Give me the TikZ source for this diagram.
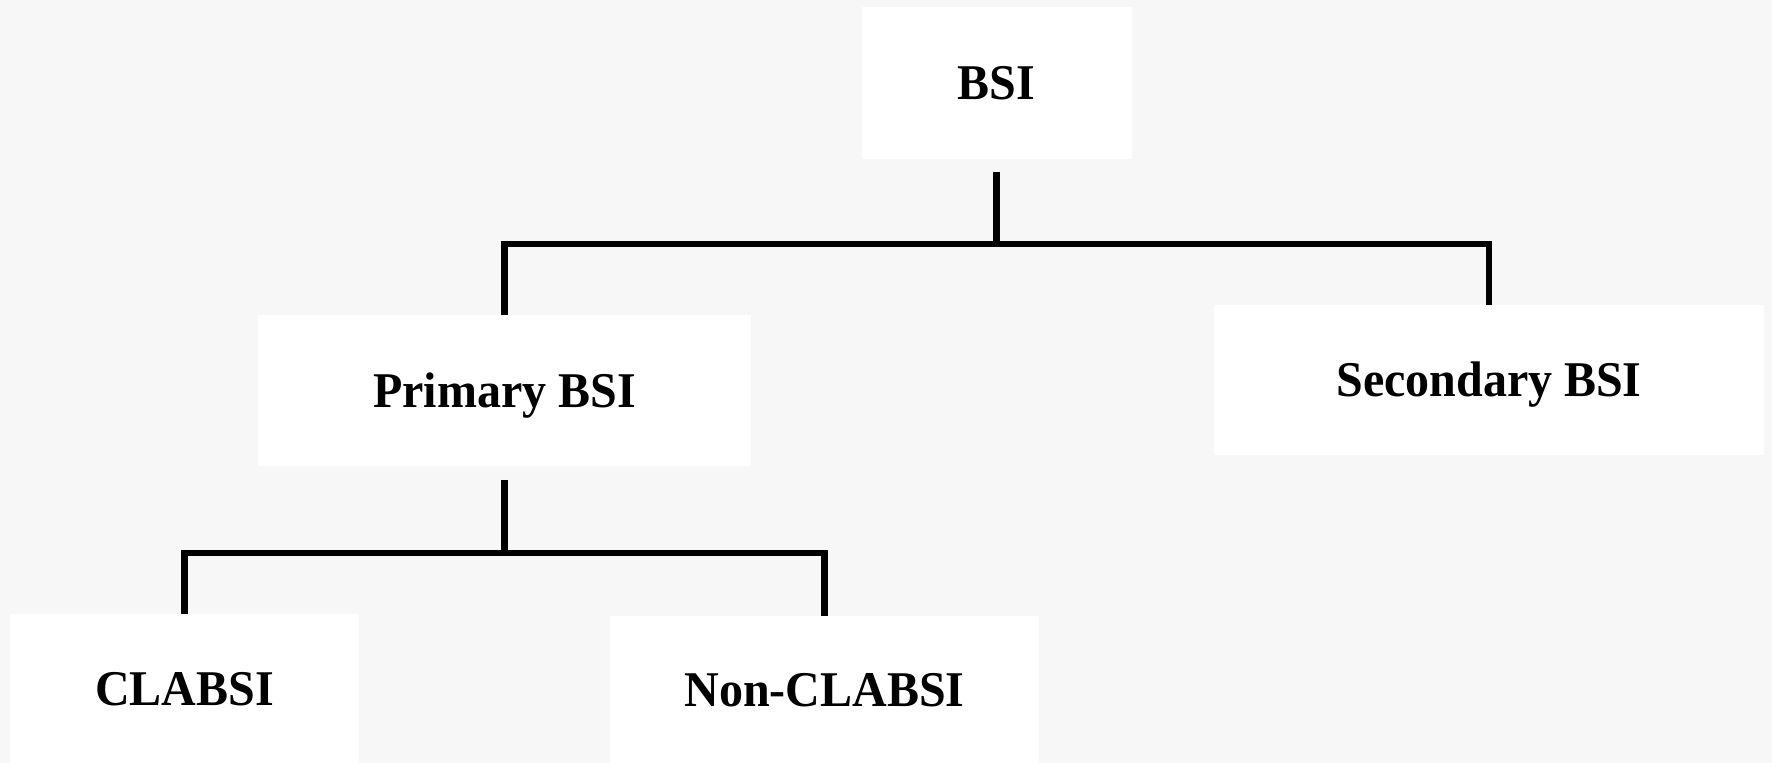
\documentclass[tikz,border=0pt]{standalone}
\usepackage{fontspec}
\setmainfont{Liberation Serif}[FakeStretch=0.96]
\usepackage{xcolor}
\usepackage{tikz}
\definecolor{paper}{HTML}{F7F7F7}
\definecolor{boxfill}{HTML}{FFFFFF}
\definecolor{ink}{HTML}{000000}
\tikzset{
  cat/.style={rectangle, fill=boxfill, draw=none, inner sep=0pt,
    font=\fontsize{25}{30}\selectfont\bfseries, text=ink,
    text height=17pt, text depth=-3pt},
  link/.style={draw=ink, line width=3.25pt}
}

\begin{document}
\begin{tikzpicture}[x=0.5pt, y=-0.5pt]
  % 1 unit = 1 px of the 1772 x 763 frame
  \fill[paper] (0,0) rectangle (1772,763);
  \useasboundingbox (0,0) rectangle (1772,763);

  % categories
  \node[cat, text depth=0pt, minimum width=135pt, minimum height=76pt] (bsi) at (996.5,83) {BSI};
  \node[cat, text depth=-4pt, minimum width=246.5pt, minimum height=75.5pt] (primary) at (504.5,390.5) {Primary BSI};
  \node[cat, text depth=-4pt, minimum width=275pt, minimum height=75pt] (secondary) at (1489,380) {Secondary BSI};
  \node[cat, minimum width=174.5pt, minimum height=75pt] (clabsi) at (184.5,689) {CLABSI};
  \node[cat, minimum width=214.5pt, minimum height=74pt] (nonclabsi) at (824.5,690) {Non-CLABSI};

  % junctions of the tree
  \coordinate (bar1) at (995,244);
  \coordinate (bar2) at (504,553);

  % BSI -> Primary / Secondary
  \draw[link] ([yshift=-6.5pt]bsi.south) -- (bsi.south |- bar1);
  \draw[link] (primary.north) |- (bar1) -| (secondary.north);

  % Primary -> CLABSI / Non-CLABSI
  \draw[link] ([yshift=-7pt]primary.south) -- (primary.south |- bar2);
  \draw[link] (clabsi.north) |- (bar2) -| (nonclabsi.north);
\end{tikzpicture}
\end{document}
